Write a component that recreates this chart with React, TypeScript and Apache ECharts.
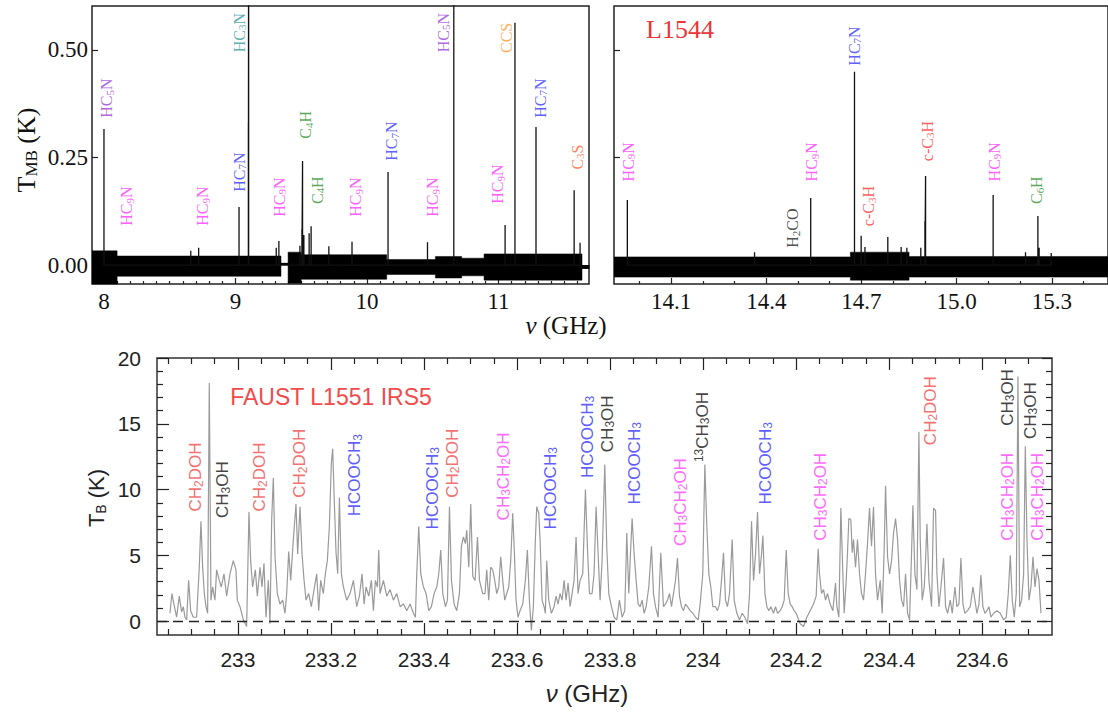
import React, { useEffect, useRef } from 'react';
import * as echarts from 'echarts';

// ---------------- DATA ----------------
// Top-left panel (L1544, 7.9–11.7 GHz): isolated line peaks (GHz, K)
const tlPeakFreq = [8.0, 8.66, 8.72, 9.027, 9.098, 9.1, 9.31, 9.33, 9.49, 9.505, 9.51, 9.52, 9.56, 9.575, 9.71, 9.886, 10.16, 10.46, 10.66, 11.05, 11.125, 11.285, 11.575, 11.62];
const tlPeakT = [0.316, 0.033, 0.04, 0.135, 0.33, 1.0, 0.04, 0.056, 0.045, 0.083, 0.242, 0.07, 0.074, 0.09, 0.044, 0.054, 0.216, 0.053, 1.0, 0.093, 0.563, 0.321, 0.174, 0.052];
// noise envelope of the top-left spectrum, per frequency segment
const tlBandStart = [7.909, 8.1, 9.346, 9.4, 9.5, 10.15, 10.52, 10.72, 10.89, 11.635];
const tlBandEnd = [8.1, 9.346, 9.4, 9.5, 10.15, 10.52, 10.72, 10.89, 11.635, 11.69];
const tlBandUpper = [0.033, 0.021, 0.004, 0.03, 0.024, 0.013, 0.02, 0.016, 0.026, -0.008];
const tlBandLower = [-0.05, -0.026, 0.004, -0.042, -0.033, -0.022, -0.03, -0.025, -0.035, -0.008];

// Top-right panel (14–15.4 GHz)
const trPeakFreq = [13.962, 14.363, 14.54, 14.678, 14.699, 14.711, 14.783, 14.825, 14.843, 14.887, 14.9, 14.902, 15.115, 15.217, 15.256, 15.26, 15.298];
const trPeakT = [0.151, 0.03, 0.156, 0.449, 0.068, 0.042, 0.065, 0.042, 0.04, 0.04, 0.102, 0.207, 0.163, 0.03, 0.114, 0.04, 0.028];
const trBandStart = [13.92, 14.665, 14.85];
const trBandEnd = [14.665, 14.85, 15.48];
const trBandUpper = [0.019, 0.03, 0.02];
const trBandLower = [-0.028, -0.035, -0.028];

// Bottom panel (FAUST L1551 IRS5) spectrum (GHz, K)
const bFreq = [
  232.8538, 232.8581, 232.8624, 232.8681, 232.8739, 232.8789, 232.8825, 232.8861, 232.8897, 232.894,
  232.8983, 232.904, 232.9112, 232.9169, 232.9205, 232.9241, 232.9277, 232.9313, 232.9348, 232.9384,
  232.942, 232.9456, 232.9506, 232.9542, 232.9599, 232.9642, 232.97, 232.9757, 232.9829, 232.99,
  232.9958, 232.9986, 233.0044, 233.0116, 233.0187, 233.0237, 233.0273, 233.0316, 233.0374, 233.0417,
  233.0474, 233.0517, 233.056, 233.0603, 233.0653, 233.0689, 233.0725, 233.0761, 233.0797, 233.0847,
  233.0904, 233.0961, 233.1012, 233.1048, 233.1091, 233.1134, 233.1191, 233.1248, 233.1284, 233.1335,
  233.1378, 233.1421, 233.1464, 233.1521, 233.1578, 233.1636, 233.1693, 233.1736, 233.1779, 233.1836,
  233.1879, 233.1922, 233.1965, 233.2008, 233.2037, 233.2066, 233.2109, 233.2145, 233.2181, 233.2224,
  233.2267, 233.2338, 233.241, 233.2482, 233.2553, 233.2611, 233.2668, 233.2711, 233.2754, 233.2812,
  233.2869, 233.2912, 233.2955, 233.2998, 233.3027, 233.3055, 233.3127, 233.3199, 233.327, 233.3342,
  233.3414, 233.3486, 233.3557, 233.3629, 233.3701, 233.3772, 233.3815, 233.3844, 233.3887, 233.393,
  233.3987, 233.4045, 233.4102, 233.4159, 233.4217, 233.4274, 233.4317, 233.436, 233.4403, 233.4461,
  233.4504, 233.4547, 233.459, 233.4647, 233.4704, 233.4761, 233.4804, 233.4847, 233.489, 233.4919,
  233.4962, 233.5005, 233.5048, 233.5098, 233.5149, 233.5192,
  233.5204, 233.5261, 233.5312, 233.5348, 233.5391, 233.5434, 233.5477, 233.552, 233.5563, 233.5606,
  233.5649, 233.5692, 233.5735, 233.5778, 233.5821, 233.5864, 233.5907, 233.5943, 233.5978, 233.6021,
  233.6065, 233.6122, 233.6179, 233.6222, 233.6265, 233.6308, 233.6351, 233.6394, 233.6423, 233.6466,
  233.6495, 233.6538, 233.6581, 233.6609, 233.6638, 233.6681, 233.6738, 233.6796, 233.6839, 233.6882,
  233.6925, 233.6968, 233.7011, 233.7054, 233.7097, 233.714, 233.7183, 233.7226, 233.7269, 233.7312,
  233.7355, 233.7412, 233.747, 233.7513, 233.7556, 233.7613, 233.7656, 233.7699, 233.7742, 233.7785,
  233.7828, 233.7886, 233.7929, 233.7972, 233.8029, 233.8087, 233.8144, 233.8201, 233.8259, 233.8316,
  233.8359, 233.8402, 233.8445, 233.8474, 233.8517, 233.856, 233.8603, 233.8646, 233.8689, 233.8732,
  233.8775, 233.8832, 233.889, 233.8933, 233.8976, 233.9033, 233.909, 233.9148, 233.9191, 233.9234,
  233.9277, 233.932, 233.9363, 233.9406, 233.9449, 233.9492, 233.9535, 233.9578, 233.9621, 233.9664,
  233.9721, 233.9779, 233.9836, 233.9893, 233.9936, 233.9993, 234.0037, 234.008, 234.0123, 234.0166,
  234.0209, 234.0266, 234.0309, 234.0352, 234.0395, 234.0438, 234.0481, 234.0524, 234.0567, 234.0625,
  234.0668, 234.0725, 234.0782, 234.084, 234.0897, 234.0955, 234.0998, 234.1041, 234.1084, 234.1127,
  234.117, 234.1213, 234.1256, 234.1285, 234.1328, 234.1371, 234.1413, 234.1456, 234.1514, 234.1557,
  234.16, 234.1657, 234.17, 234.1743, 234.1786, 234.1829, 234.1872, 234.1915, 234.1958, 234.2001,
  234.2086, 234.2158, 234.223, 234.2301, 234.2373, 234.243, 234.2473, 234.2502, 234.2545, 234.2588,
  234.2631, 234.2674, 234.2731, 234.2789, 234.2846, 234.2875, 234.2918, 234.2961, 234.3004, 234.3033,
  234.3076, 234.3104, 234.3133, 234.3176, 234.3205, 234.3233, 234.3276, 234.3319, 234.3362, 234.3405,
  234.3448, 234.3491, 234.3534, 234.3577, 234.362, 234.3663, 234.3706, 234.3749, 234.3807, 234.385,
  234.3893, 234.3922, 234.3965, 234.4008, 234.4051, 234.4094, 234.4137, 234.418, 234.4223, 234.4266,
  234.4309, 234.4352, 234.4395, 234.4438, 234.4481, 234.451, 234.4553, 234.4596, 234.4639, 234.4667,
  234.471, 234.4753, 234.4782, 234.4811, 234.4854, 234.4911, 234.4954, 234.4997, 234.5026, 234.5069,
  234.5112, 234.5169, 234.5212, 234.5255, 234.5313, 234.5356, 234.5413, 234.5456, 234.5499, 234.5542,
  234.5585, 234.5628, 234.5685, 234.5743, 234.58, 234.5843, 234.5886, 234.5929, 234.5972, 234.6015,
  234.6058, 234.6101, 234.6144, 234.6187, 234.6244, 234.6316, 234.6388, 234.646, 234.6517, 234.656,
  234.6603, 234.6646, 234.6689, 234.6732, 234.6768, 234.6804, 234.6847, 234.689, 234.6926, 234.6962,
  234.7005, 234.7048, 234.7091, 234.7134, 234.7177, 234.722, 234.7263,
];
const bT = [
  0.6, 2.1, 1.3, 0.3, 1.9, 0.7, 1.1, 0.3, 0.1, 3.1,
  0.8, 0.3, 0.3, 4.1, 7.6, 4.1, 2.1, 1.1, 0.6, 18.1,
  1.6, 2.6, 1.6, 3.9, 3.1, 2.6, 3.6, 1.9, 3.6, 4.6,
  3.9, 1.6, 1.1, 0.1, -0.4, 8.3, 4.6, 2.6, 3.9, 1.9,
  4.1, 2.6, 4.4, 0.3, 3.1, -0.2, 7.7, 10.9, 4.9, 2.1,
  1.3, 1.6, 0.6, 2.1, 5.3, 3.1, 6.2, 8.9, 5.1, 8.7,
  5.1, 3.1, 1.6, 2.1, 1.1, 2.4, 3.6, 0.8, 3.1, 2.1,
  3.6, 4.6, 7.2, 12.0, 13.1, 9.7, 5.2, 3.6, 9.4, 3.6,
  2.6, 1.6, 2.1, 3.1, 1.1, 1.9, 3.6, 1.3, 2.6, 1.9,
  3.1, 0.8, 3.1, 2.6, 5.4, 2.1, 3.1, 1.9, 2.4, 1.6,
  2.1, 1.1, 1.3, 0.8, 1.3, 0.6, 0.3, 3.6, 7.2, 3.6,
  2.6, 2.1, 0.8, 1.1, 2.1, 2.6, 3.6, 5.4, 2.1, 1.1,
  1.6, 8.7, 3.1, 1.3, 0.8, 2.1, 5.7, 6.4, 5.9, 6.9,
  4.1, 8.9, 3.4, 3.1, 6.4, 3.1,
  3.1, 2.1, 2.1, 3.9, 1.6, 4.1, 3.9, 3.1, 2.1, 2.6,
  4.9, 3.1, 1.6, 2.1, 2.6, 4.6, 8.2, 5.2, 1.6, 0.3,
  0.8, 1.3, 3.1, 5.4, 1.6, -0.7, 1.1, 6.2, 8.7, 8.2,
  6.2, 1.6, 1.1, 0.6, 4.6, 1.6, 0.6, 1.1, 1.9, 1.3,
  2.1, 1.6, 3.1, 1.6, 2.9, 1.1, 2.1, 3.1, 6.4, 2.1,
  3.1, 3.6, 10.0, 5.6, 2.1, 2.1, 3.6, 8.7, 5.2, 1.6,
  4.6, 11.9, 5.6, 2.1, 1.1, 0.3, 0.1, 1.6, 0.3, 0.8,
  6.7, 2.1, 5.7, 7.8, 5.1, 3.1, 1.3, 1.1, 1.6, 0.6,
  1.1, 2.6, 5.7, 2.1, 1.1, 0.3, 5.2, 1.1, 1.3, 1.6,
  2.1, 1.1, 2.1, 3.1, 4.8, 1.9, 1.1, 0.8, 1.3, 1.1,
  0.8, 0.6, 0.3, 0.1, 1.3, 3.6, 11.9, 7.2, 3.6, 2.6,
  1.1, 1.1, 0.8, 1.3, 3.1, 5.2, 1.6, 1.1, 2.1, 6.2,
  1.6, 0.6, 0.1, 0.6, 0.3, -0.2, 2.1, 7.6, 3.1, 5.1,
  8.3, 3.6, 5.1, 6.5, 2.1, 1.1, 0.8, 1.1, 0.6, 1.1,
  0.6, 0.8, 1.1, 1.6, 5.4, 2.1, 1.3, 1.1, 0.8, 0.6,
  -0.2, -0.4, 0.3, 0.8, 1.3, 1.9, 5.5, 3.6, 2.1, 2.4,
  1.6, 2.1, 1.3, 0.8, 2.9, 1.1, 0.3, 8.6, 3.6, 0.6,
  3.1, 5.2, 7.8, 7.7, 5.2, 6.2, 4.1, 6.2, 3.6, 2.1,
  1.6, 3.6, 5.9, 8.6, 5.7, 8.7, 3.6, 1.6, 3.1, 0.6,
  5.6, 10.3, 4.9, 3.6, 4.6, 6.7, 7.8, 6.2, 3.1, 1.6,
  1.1, 3.6, 0.6, 0.1, 5.2, 8.8, 3.6, 2.4, 14.4, 6.2,
  1.6, 2.6, 4.6, 7.4, 3.1, 1.1, 8.6, 8.4, 3.6, 1.1,
  2.6, 4.8, 1.1, 0.6, 1.6, 0.6, 2.6, 1.1, 1.3, 4.8,
  1.3, 0.6, 0.8, 1.1, 2.6, 1.6, 0.6, 1.3, 3.5, 1.1,
  0.6, 0.8, 1.1, 0.3, 0.6, 0.8, 0.6, 0.1, 0.3, 2.1,
  5.0, 1.6, 0.3, 2.1, 18.6, 1.1, 1.6, 3.6, 13.3, 6.2,
  1.6, 2.6, 4.9, 2.6, 4.0, 3.1, 0.6,
];

// Line identifications (label text, frequency at label centre, height at label centre)
const tlLabelName = ['HC5N', 'HC9N', 'HC9N', 'HC7N', 'HC3N', 'HC9N', 'C4H', 'C4H', 'HC9N', 'HC7N', 'HC9N', 'HC5N', 'HC9N', 'CCS', 'HC7N', 'C3S'];
const tlLabelFreq = [8.023, 8.175, 8.753, 9.027, 9.027, 9.331, 9.536, 9.62, 9.916, 10.19, 10.5, 10.578, 10.996, 11.057, 11.316, 11.597];
const tlLabelT = [0.388, 0.137, 0.137, 0.216, 0.54, 0.158, 0.326, 0.174, 0.158, 0.288, 0.158, 0.54, 0.188, 0.528, 0.388, 0.251];

const trLabelName = ['HC9N', 'H2CO', 'HC9N', 'HC7N', 'c-C3H', 'c-C3H', 'HC9N', 'C6H'];
const trLabelFreq = [13.965, 14.483, 14.543, 14.678, 14.723, 14.908, 15.118, 15.253];
const trLabelT = [0.24, 0.086, 0.24, 0.509, 0.137, 0.288, 0.24, 0.174];

const bLabelName = ['CH2DOH', 'CH3OH', 'CH2DOH', 'CH2DOH', 'HCOOCH3', 'HCOOCH3', 'CH2DOH', 'CH3CH2OH', 'HCOOCH3', 'HCOOCH3', 'CH3OH', 'HCOOCH3', 'CH3CH2OH', '13CH3OH', 'HCOOCH3', 'CH3CH2OH', 'CH2DOH', 'CH3OH', 'CH3OH', 'CH3CH2OH', 'CH3CH2OH'];
const bLabelFreq = [232.9097, 232.9677, 233.0473, 233.1333, 233.2516, 233.4172, 233.4602, 233.5699, 233.671, 233.7505, 233.7935, 233.8516, 233.9505, 233.9978, 234.1333, 234.2516, 234.4882, 234.6538, 234.7032, 234.6538, 234.7183];
const bLabelT = [10.95, 10.0, 10.95, 12.0, 11.1, 10.1, 12.0, 11.0, 10.1, 14.0, 15.0, 12.0, 9.05, 14.75, 12.0, 9.45, 16.0, 17.0, 16.0, 9.45, 9.45];

const molColor: Record<string, string> = {
  HC5N: '#9b3fdc', HC9N: '#ff33ff', HC7N: '#3535ff', HC3N: '#339999', C4H: '#2f8f2f', C6H: '#2f8f2f',
  CCS: '#ff9a33', C3S: '#ff6633', 'c-C3H': '#ff3333', H2CO: '#222222',
  CH2DOH: '#f24b4b', CH3OH: '#111111', '13CH3OH': '#111111', HCOOCH3: '#3333ff', CH3CH2OH: '#ff44ff',
};

// Tick values
const tlXMajor = [8, 9, 10, 11];
const trXMajor = [14.1, 14.4, 14.7, 15.0, 15.3];
const topYMajor = [0, 0.25, 0.5];
const bXMajor = [233, 233.2, 233.4, 233.6, 233.8, 234, 234.2, 234.4, 234.6];
const bYMajor = [0, 5, 10, 15, 20];

// ---------------- HELPERS ----------------
const SERIF = "'Liberation Serif', 'DejaVu Serif', serif";
const SANS = "'Liberation Sans', 'DejaVu Sans', sans-serif";

const range = (a: number, b: number, step: number) => {
  const out: number[] = [];
  for (let k = Math.round(a / step); k * step <= b + 1e-9; k++) out.push(+(k * step).toFixed(4));
  return out;
};
const minorOf = (a: number, b: number, step: number, major: number[]) =>
  range(a, b, step).filter((v) => !major.some((m) => Math.abs(m - v) < 1e-6));

const toRich = (s: string) => {
  let out = '';
  let i = 0;
  let lead = '';
  while (i < s.length && /\d/.test(s[i])) { lead += s[i]; i++; }
  if (lead) out += `{p|${lead}}`;
  let buf = '';
  let dig = '';
  for (; i < s.length; i++) {
    const c = s[i];
    if (/\d/.test(c)) { if (buf) { out += `{n|${buf}}`; buf = ''; } dig += c; }
    else { if (dig) { out += `{s|${dig}}`; dig = ''; } buf += c; }
  }
  if (buf) out += `{n|${buf}}`;
  if (dig) out += `{s|${dig}}`;
  return out;
};

const richSet = (family: string, size: number, sub: number) => ({
  n: { fontFamily: family, fontSize: size, lineHeight: size + 1 },
  s: { fontFamily: family, fontSize: sub, lineHeight: 6, verticalAlign: 'bottom' },
  p: { fontFamily: family, fontSize: sub, lineHeight: 6, verticalAlign: 'top' },
});

const peakPts = (f: number[], t: number[]) => f.flatMap((v, i) => [[v, 0], [v, t[i]], [v, 0]]);
const stepPts = (s: number[], e: number[], v: number[]) => s.flatMap((x, i) => [[x, v[i]], [e[i], v[i]]]);

const TICK = { color: '#222', width: 1.2 };

function axisDef(gridIndex: number, min: number, max: number, ticks: number[], len: number, pos: string, label: any) {
  return {
    type: 'value', gridIndex, min, max, position: pos,
    axisLine: { show: false, onZero: false },
    splitLine: { show: false },
    axisTick: { show: true, inside: true, length: len, customValues: ticks, lineStyle: TICK },
    axisLabel: label ? { show: true, customValues: ticks, ...label } : { show: false },
  };
}

function labelSeries(xi: number, names: string[], freqs: number[], ts: number[], family: string, size: number, sub: number) {
  return {
    type: 'scatter', xAxisIndex: xi, yAxisIndex: xi, symbolSize: 0.1, silent: true, clip: false,
    itemStyle: { color: 'rgba(0,0,0,0)' },
    emphasis: { disabled: true },
    label: {
      show: true, position: 'inside', rotate: 90, fontFamily: family, fontSize: size,
      formatter: (p: any) => toRich(p.name),
      rich: richSet(family, size, sub),
    },
    data: names.map((n, i) => ({ name: n, value: [freqs[i], ts[i]], label: { color: molColor[n] } })),
  };
}

function bandSeries(xi: number, pts: number[][]) {
  return {
    type: 'line', xAxisIndex: xi, yAxisIndex: xi, data: pts, symbol: 'none', silent: true,
    lineStyle: { color: '#000', width: 0.5 },
    areaStyle: { color: '#000', opacity: 1, origin: 0 },
  };
}

function buildOption() {
  const tlMinor = minorOf(8.1, 11.6, 0.1, tlXMajor);
  const trMinor = minorOf(14.0, 15.4, 0.1, trXMajor);
  const bXMinor = minorOf(232.85, 234.7, 0.05, bXMajor);
  const bYMinor = minorOf(1, 19, 1, bYMajor);

  const serifLbl = { fontFamily: SERIF, fontSize: 23, color: '#111' };
  const sansLbl = { fontFamily: SANS, fontSize: 21, color: '#222' };

  return {
    animation: false,
    backgroundColor: '#fff',
    grid: [
      { left: 92, top: 6, width: 497, height: 278, show: true, borderColor: '#222', borderWidth: 1.5, backgroundColor: 'transparent' },
      { left: 614, top: 6, width: 520, height: 278, show: true, borderColor: '#222', borderWidth: 1.5, backgroundColor: 'transparent' },
      { left: 157, top: 358, width: 895, height: 277, show: true, borderColor: '#333', borderWidth: 1.5, backgroundColor: 'transparent' },
    ],
    xAxis: [
      axisDef(0, 7.909, 11.688, tlXMajor, 6, 'bottom', { ...serifLbl, margin: 6 }),
      axisDef(1, 13.92, 15.477, trXMajor, 6, 'bottom', { ...serifLbl, margin: 6, formatter: (v: number) => v.toFixed(1) }),
      axisDef(2, 232.826, 234.75, bXMajor, 12, 'bottom', { ...sansLbl, margin: 14, formatter: (v: number) => String(+v.toFixed(1)) }),
      axisDef(0, 7.909, 11.688, tlMinor, 3, 'bottom', null),
      axisDef(1, 13.92, 15.477, trMinor, 3, 'bottom', null),
      axisDef(2, 232.826, 234.75, bXMinor, 6, 'bottom', null),
      axisDef(2, 232.826, 234.75, bXMajor, 12, 'top', null),
      axisDef(2, 232.826, 234.75, bXMinor, 6, 'top', null),
    ],
    yAxis: [
      axisDef(0, -0.044, 0.602, topYMajor, 6, 'left', { ...serifLbl, margin: 4, formatter: (v: number) => v.toFixed(2) }),
      axisDef(1, -0.044, 0.602, topYMajor, 6, 'left', null),
      axisDef(2, -1.05, 20, bYMajor, 12, 'left', { ...sansLbl, margin: 16 }),
      axisDef(2, -1.05, 20, bYMinor, 6, 'left', null),
      axisDef(2, -1.05, 20, bYMajor, 10, 'right', null),
      axisDef(2, -1.05, 20, bYMinor, 6, 'right', null),
    ],
    graphic: [
      {
        type: 'text', x: 26, y: 150, rotation: Math.PI / 2,
        style: {
          text: '{n|T}{s|MB}{n| (K)}', fill: '#111', align: 'center', verticalAlign: 'middle',
          rich: {
            n: { fontFamily: SERIF, fontSize: 26, lineHeight: 27 },
            s: { fontFamily: SERIF, fontSize: 17, lineHeight: 6, verticalAlign: 'bottom' },
          },
        },
      },
      {
        type: 'text', x: 566, y: 325,
        style: {
          text: '{i|ν}{n| (GHz)}', fill: '#111', align: 'center', verticalAlign: 'middle',
          rich: {
            i: { fontFamily: SERIF, fontSize: 25, fontStyle: 'italic' },
            n: { fontFamily: SERIF, fontSize: 25 },
          },
        },
      },
      {
        type: 'text', x: 680, y: 29,
        style: { text: 'L1544', fill: '#e8363a', fontFamily: SERIF, fontSize: 26, align: 'center', verticalAlign: 'middle' },
      },
      {
        type: 'text', x: 331, y: 397,
        style: { text: 'FAUST L1551 IRS5', fill: '#f24b4b', fontFamily: SANS, fontSize: 23, align: 'center', verticalAlign: 'middle' },
      },
      {
        type: 'text', x: 96, y: 498, rotation: Math.PI / 2,
        style: {
          text: '{n|T}{s|B}{n| (K)}', fill: '#222', align: 'center', verticalAlign: 'middle',
          rich: {
            n: { fontFamily: SANS, fontSize: 22, lineHeight: 23 },
            s: { fontFamily: SANS, fontSize: 14, lineHeight: 6, verticalAlign: 'bottom' },
          },
        },
      },
      {
        type: 'text', x: 587, y: 693,
        style: {
          text: '{i|ν}{n| (GHz)}', fill: '#222', align: 'center', verticalAlign: 'middle',
          rich: {
            i: { fontFamily: SANS, fontSize: 24, fontStyle: 'italic' },
            n: { fontFamily: SANS, fontSize: 24 },
          },
        },
      },
    ],
    series: [
      bandSeries(0, stepPts(tlBandStart, tlBandEnd, tlBandUpper)),
      bandSeries(0, stepPts(tlBandStart, tlBandEnd, tlBandLower)),
      {
        type: 'line', xAxisIndex: 0, yAxisIndex: 0, data: peakPts(tlPeakFreq, tlPeakT), symbol: 'none', silent: true,
        lineStyle: { color: '#111', width: 1.3 },
      },
      bandSeries(1, stepPts(trBandStart, trBandEnd, trBandUpper)),
      bandSeries(1, stepPts(trBandStart, trBandEnd, trBandLower)),
      {
        type: 'line', xAxisIndex: 1, yAxisIndex: 1, data: peakPts(trPeakFreq, trPeakT), symbol: 'none', silent: true,
        lineStyle: { color: '#111', width: 1.3 },
      },
      {
        type: 'line', xAxisIndex: 2, yAxisIndex: 2, data: bFreq.map((f, i) => [f, bT[i]]), symbol: 'none', silent: true,
        lineStyle: { color: '#9a9a9a', width: 1.2 },
        markLine: {
          silent: true, symbol: ['none', 'none'], label: { show: false },
          lineStyle: { color: '#222', type: [10, 6], width: 1.3 },
          data: [{ yAxis: 0 }],
        },
      },
      labelSeries(0, tlLabelName, tlLabelFreq, tlLabelT, SERIF, 16, 11),
      labelSeries(1, trLabelName, trLabelFreq, trLabelT, SERIF, 16, 11),
      labelSeries(2, bLabelName, bLabelFreq, bLabelT, SANS, 17, 12),
    ],
  };
}

export default function App() {
  const ref = useRef<HTMLDivElement>(null);
  useEffect(() => {
    if (!ref.current) return;
    const chart = echarts.init(ref.current, undefined, { renderer: 'svg' });
    chart.setOption(buildOption() as any);
    return () => chart.dispose();
  }, []);
  return (
    <div
      ref={ref}
      style={{ position: 'fixed', left: 0, top: 0, width: 1108, height: 715, background: '#fff', overflow: 'hidden' }}
    />
  );
}
